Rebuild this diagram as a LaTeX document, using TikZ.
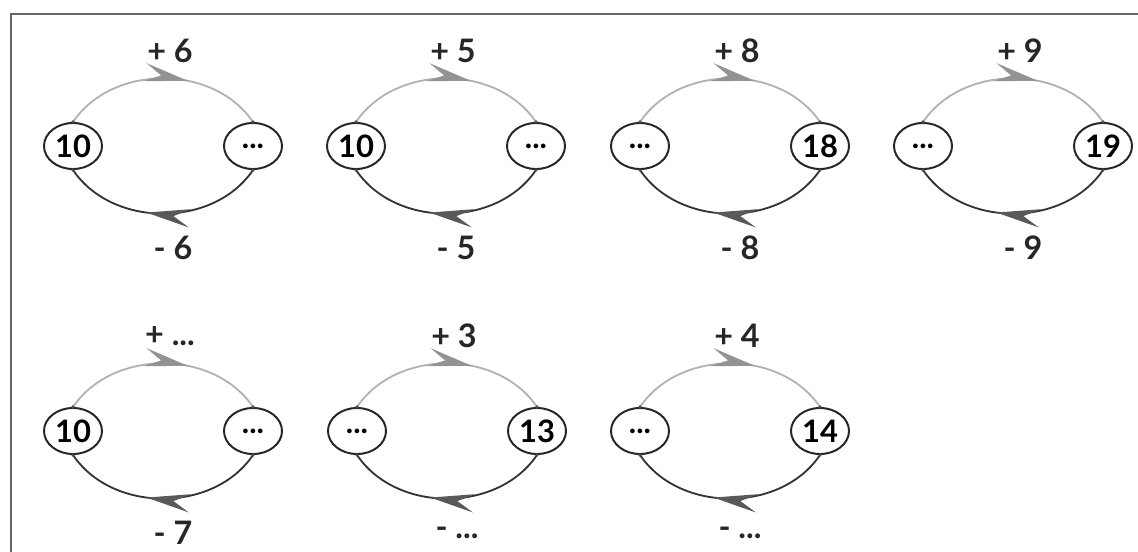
\documentclass[tikz,border=0pt]{standalone}
\usepackage{fontspec}
\setmainfont{Lato}
\usetikzlibrary{arrows.meta, decorations.markings, shapes.geometric}

\begin{document}
\begin{tikzpicture}[x = 0.025cm, y = -0.025cm, font = \bfseries,
	num/.style = {ellipse, draw = black!85, line width = 1.4pt, minimum width = 1.45cm,
		minimum height = 1.15cm, inner sep = 0pt, font = \fontsize{22}{22}\selectfont\bfseries},
	lbl/.style = {font = \fontsize{23}{23}\selectfont\bfseries, text = black!85},
	add/.style = {gray!60, line width = 1.3pt, postaction = decorate,
		decoration = {markings, mark = at position 0.62 with
			{\arrow[gray!85]{Stealth[length = 1.1cm, width = 0.46cm, inset = 0.42cm]}}}},
	sub/.style = {black!80, line width = 1.3pt, postaction = decorate,
		decoration = {markings, mark = at position 0.58 with
			{\arrow[gray!70!black]{Stealth[length = 1.1cm, width = 0.46cm, inset = 0.42cm]}}}}]

	% Definition
	
	\def\dd{...}		% Gap to fill in
	
	\useasboundingbox (0, 0) rectangle (1138, 552);
	
	% Frame
	
	\draw [gray!80!black, line width = 1.4pt] (11, 552) -- (11, 14) -- (1138, 14);
	
	% Number cycles
	
	\foreach \cx/\cy/\lt/\rt/\up/\dn [count = \i] in {
		73/146/10/\dd/6/6, 356/146/10/\dd/5/5, 640/146/\dd/18/8/8, 923/146/\dd/19/9/9,
		73/431/10/\dd/\dd/7, 357/431/\dd/13/3/\dd, 640/431/\dd/14/4/\dd} {
		
		\node [num] (l\i) at (\cx, \cy) {\lt};
		\node [num] (r\i) at (\cx + 180, \cy) {\rt};
		
		\draw [add] (l\i.north) to [out = 56, in = 124, looseness = 1.0] (r\i.north);
		\draw [sub] (r\i.south) to [out = -124, in = -56, looseness = 1.0] (l\i.south);
		
		\foreach \p in {l\i.north, l\i.south, r\i.north, r\i.south}
			\fill [black!70] (\p) circle (1.3pt);
		
		\node [lbl] (a\i) at (\cx + 97, \cy - 95) {+ \up};
		\node [lbl] (s\i) at (\cx + 100, \cy + 102) {- \dn};
	}

\end{tikzpicture}
\end{document}
